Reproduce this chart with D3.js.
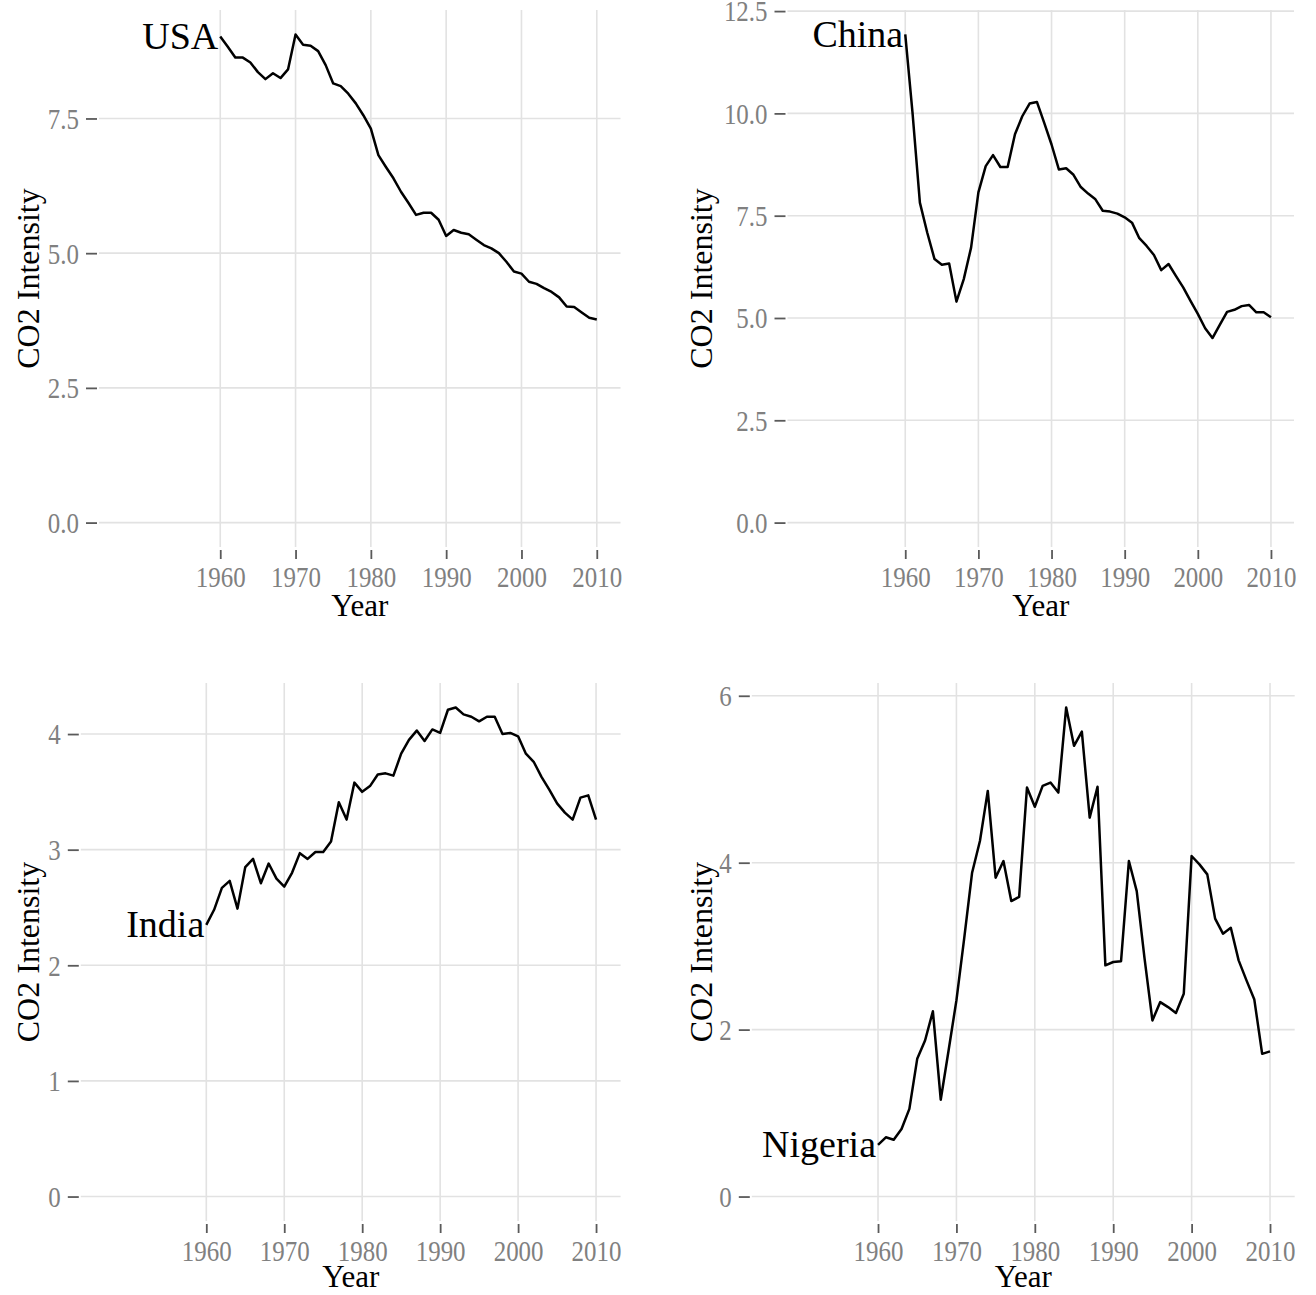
<!DOCTYPE html>
<html><head><meta charset="utf-8">
<script src="https://cdn.jsdelivr.net/npm/d3@7"></script>
<style>body{margin:0;background:#fff}</style>
</head><body>
<svg id="chart" width="1316" height="1295"></svg>
<script>
// ---------------- data ----------------
const years = d3.range(1960, 2011);
const countries = ["USA", "China", "India", "Nigeria"];
const usa = [9.02, 8.83, 8.63, 8.63, 8.54, 8.36, 8.23, 8.34, 8.25, 8.41,
  9.06, 8.87, 8.85, 8.75, 8.49, 8.15, 8.10, 7.96, 7.78, 7.56,
  7.31, 6.82, 6.60, 6.39, 6.14, 5.93, 5.71, 5.75, 5.75, 5.62,
  5.32, 5.43, 5.38, 5.35, 5.25, 5.15, 5.09, 5.00, 4.84, 4.66,
  4.62, 4.47, 4.43, 4.35, 4.28, 4.18, 4.01, 4.00, 3.90, 3.80,
  3.77];
const china = [11.93, 10.0, 7.82, 7.09, 6.44, 6.30, 6.33, 5.40, 5.95, 6.72,
  8.07, 8.71, 8.98, 8.69, 8.69, 9.49, 9.93, 10.24, 10.28, 9.77,
  9.24, 8.63, 8.66, 8.50, 8.20, 8.04, 7.90, 7.62, 7.60, 7.55,
  7.46, 7.33, 6.95, 6.76, 6.54, 6.17, 6.32, 6.03, 5.75, 5.42,
  5.10, 4.75, 4.51, 4.83, 5.15, 5.20, 5.29, 5.32, 5.14, 5.14,
  5.02];
const india = [2.35, 2.48, 2.67, 2.73, 2.49, 2.85, 2.92, 2.71, 2.88, 2.75,
  2.68, 2.80, 2.97, 2.92, 2.98, 2.98, 3.07, 3.41, 3.26, 3.58,
  3.50, 3.55, 3.65, 3.66, 3.64, 3.83, 3.95, 4.03, 3.94, 4.04,
  4.01, 4.21, 4.23, 4.17, 4.15, 4.11, 4.15, 4.15, 4.00, 4.01,
  3.98, 3.83, 3.76, 3.63, 3.52, 3.40, 3.32, 3.26, 3.45, 3.47,
  3.26];
const nigeria = [0.62, 0.71, 0.68, 0.81, 1.05, 1.65, 1.87, 2.22, 1.16, 1.75,
  2.35, 3.10, 3.88, 4.26, 4.86, 3.82, 4.02, 3.54, 3.59, 4.90,
  4.67, 4.92, 4.96, 4.84, 5.86, 5.40, 5.57, 4.54, 4.91, 2.77,
  2.81, 2.82, 4.02, 3.66, 2.85, 2.11, 2.33, 2.27, 2.20, 2.43,
  4.08, 3.98, 3.86, 3.33, 3.15, 3.22, 2.83, 2.59, 2.36, 1.71,
  1.74];
const xTicks = [1960, 1970, 1980, 1990, 2000, 2010];
const usaTicks = [0, 2.5, 5, 7.5];
const chinaTicks = [0, 2.5, 5, 7.5, 10, 12.5];
const indiaTicks = [0, 1, 2, 3, 4];
const nigeriaTicks = [0, 2, 4, 6];
const xTitle = "Year";
const yTitle = "CO2 Intensity";

// ---------------- layout ----------------
const xDomain = [1943.9, 2013.15];
const panels = [
  {name: countries[0], values: usa, ticks: usaTicks, fmt: ".1f", left: 99, right: 620.5, top: 10, bottom: 547, titleX: 39, titleY: 616},
  {name: countries[1], values: china, ticks: chinaTicks, fmt: ".1f", left: 787.5, right: 1294, top: 10, bottom: 547, titleX: 712, titleY: 616},
  {name: countries[2], values: india, ticks: indiaTicks, fmt: "d", left: 80.8, right: 620.6, top: 683, bottom: 1221, titleX: 39, titleY: 1287},
  {name: countries[3], values: nigeria, ticks: nigeriaTicks, fmt: "d", left: 751.8, right: 1294.7, top: 683, bottom: 1221, titleX: 712, titleY: 1287}
];

const svg = d3.select("#chart");
const FONT = "'Liberation Serif', 'Times New Roman', serif";
const SX = 0.86;

panels.forEach(p => {
  const data = years.map((yr, i) => ({year: yr, value: p.values[i]}));
  const hi = d3.max(p.values), lo = 0, pad = 0.05 * (hi - lo);
  const x = d3.scaleLinear().domain(xDomain).range([p.left, p.right]);
  const y = d3.scaleLinear().domain([lo - pad, hi + pad]).range([p.bottom, p.top]);
  const g = svg.append("g");

  // grid
  g.append("g").selectAll("line").data(p.ticks).join("line")
    .attr("x1", p.left).attr("x2", p.right)
    .attr("y1", d => y(d)).attr("y2", d => y(d))
    .attr("stroke", "#e2e2e2").attr("stroke-width", 1.6);
  g.append("g").selectAll("line").data(xTicks).join("line")
    .attr("x1", d => x(d)).attr("x2", d => x(d))
    .attr("y1", p.top).attr("y2", p.bottom)
    .attr("stroke", "#e2e2e2").attr("stroke-width", 1.6);

  // x axis
  const xa = g.append("g").attr("transform", `translate(0,${p.bottom + 3})`)
    .call(d3.axisBottom(x).tickValues(xTicks).tickFormat(d3.format("d")).tickSize(9).tickPadding(7));
  xa.select(".domain").remove();
  xa.selectAll(".tick line").attr("stroke", "#5a5a5a").attr("stroke-width", 1.8);
  xa.selectAll(".tick text").attr("fill", "#808080").attr("font-family", FONT).attr("font-size", 29)
    .attr("transform", `scale(${SX},1)`);

  // y axis
  const ya = g.append("g").attr("transform", `translate(${p.left - 2},0)`)
    .call(d3.axisLeft(y).tickValues(p.ticks).tickFormat(d3.format(p.fmt)).tickSize(11).tickPadding(7));
  ya.select(".domain").remove();
  ya.selectAll(".tick line").attr("stroke", "#5a5a5a").attr("stroke-width", 1.8);
  ya.selectAll(".tick text").attr("fill", "#808080").attr("font-family", FONT).attr("font-size", 29)
    .attr("x", -18 / SX).attr("dy", "0.34em")
    .attr("transform", `scale(${SX},1)`);

  // titles
  g.append("text").attr("x", (p.left + p.right) / 2).attr("y", p.titleY)
    .attr("text-anchor", "middle").attr("font-family", FONT).attr("font-size", 31)
    .attr("fill", "#000").text(xTitle);
  g.append("text").attr("transform", `translate(${p.titleX},${(p.top + p.bottom) / 2}) rotate(-90)`)
    .attr("text-anchor", "middle").attr("font-family", FONT).attr("font-size", 32)
    .attr("fill", "#000").text(yTitle);

  // line
  g.append("path").datum(data)
    .attr("fill", "none").attr("stroke", "#000").attr("stroke-width", 2.5)
    .attr("stroke-linejoin", "round")
    .attr("d", d3.line().x(d => x(d.year)).y(d => y(d.value)));

  // direct label
  g.append("text").attr("x", x(years[0]) - 2).attr("y", y(p.values[0]))
    .attr("dy", "0.33em").attr("text-anchor", "end")
    .attr("font-family", FONT).attr("font-size", 38).attr("fill", "#000")
    .text(p.name);
});
</script>
</body></html>
